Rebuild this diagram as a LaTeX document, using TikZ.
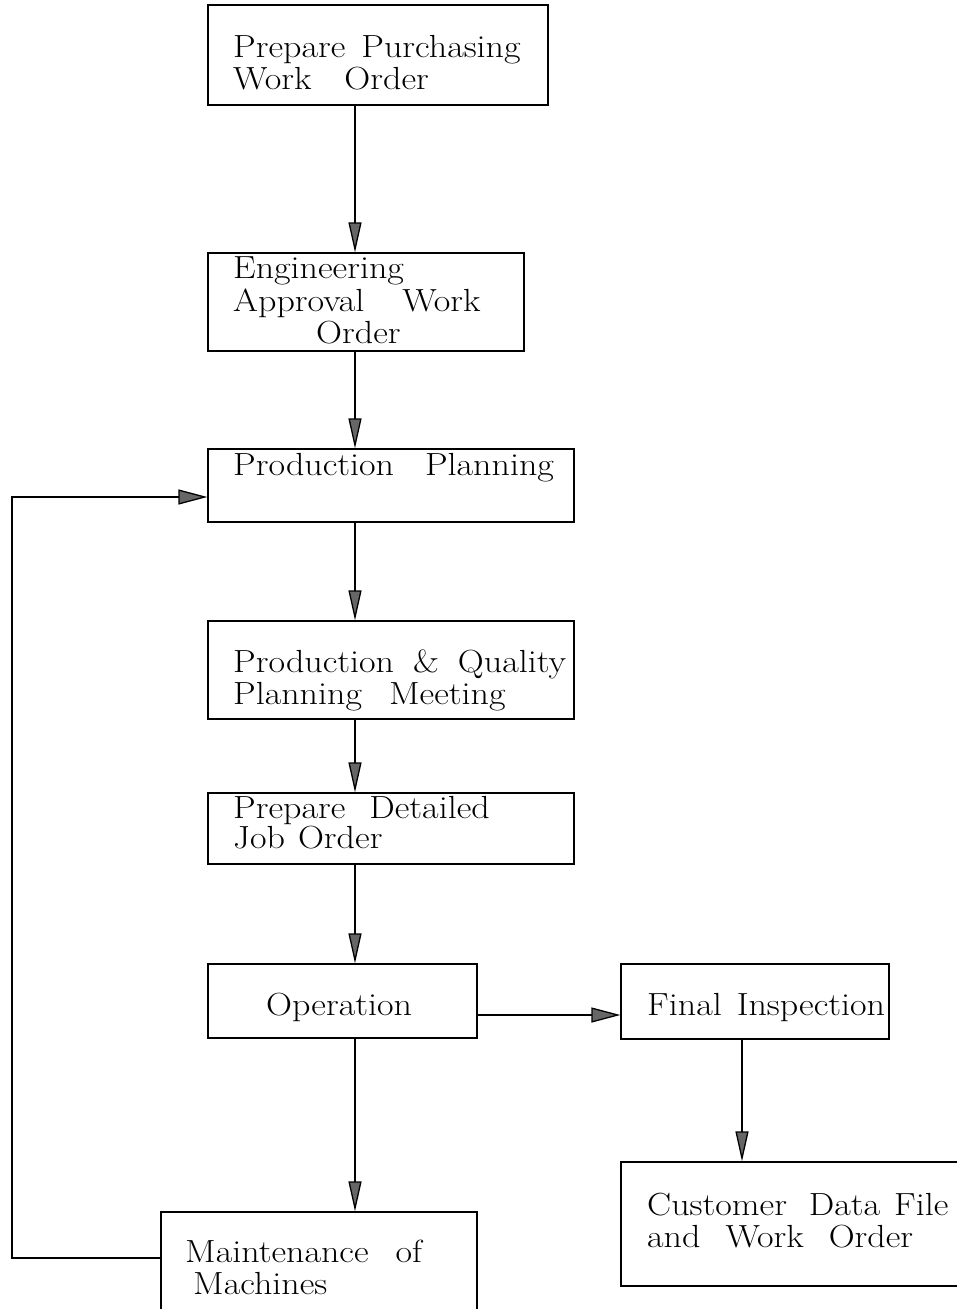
\documentclass[tikz,border=0pt]{standalone}
\usepackage{fontspec}
\setmainfont{Latin Modern Roman}[FakeStretch=1.125]
\usetikzlibrary{arrows.meta}
% a word gap of a given width in pt
\newcommand{\gp}[1]{\hspace{#1pt}}
\tikzset{
  box/.style={draw, line width=1.3pt, rectangle, inner sep=0pt},
  txt/.style={anchor=north west, inner sep=0pt, align=left,
    font=\fontsize{32}{32}\selectfont},
  arr/.style={line width=1.3pt, -{Triangle[length=30pt,width=13pt,fill=gray!80!black]}},
  harr/.style={line width=1.3pt, -{Triangle[length=29pt,width=15pt,fill=gray!80!black]}},
  line/.style={line width=1.3pt}
}
\begin{document}
\begin{tikzpicture}[x=1pt,y=-1pt]
\useasboundingbox (0,0) rectangle (957,1309);
\clip (0,0) rectangle (957,1309);

% process boxes
\node[box, minimum width=340pt, minimum height=100pt] (b1) at (378,55) {};
\node[box, minimum width=316pt, minimum height=98pt] (b2) at (366,302) {};
\node[box, minimum width=366pt, minimum height=73pt] (b3) at (391,485.5) {};
\node[box, minimum width=366pt, minimum height=98pt] (b4) at (391,670) {};
\node[box, minimum width=366pt, minimum height=71pt] (b5) at (391,828.5) {};
\node[box, minimum width=269pt, minimum height=74pt] (op) at (342.5,1001) {};
\node[box, minimum width=268pt, minimum height=75pt] (fi) at (755,1001.5) {};
\node[box, minimum width=350pt, minimum height=124pt] (cu) at (796,1224) {};
\node[box, minimum width=316pt, minimum height=120pt] (mm) at (319,1272) {};

% box texts
\node[txt] (t1) at (233,34.6) {\strut Prepare\gp{16}Purchasing\\\strut Work\gp{33}Order};
\node[txt] (t2) at (233,255.6) {\strut Engineering\\\strut Approval\gp{38}Work\\\strut\hspace*{83pt}Order};
\node[txt] (t3) at (233,452.6) {\strut Production\gp{31}Planning};
\node[txt] (t4) at (233,649.6) {\strut Production\gp{19}\&\gp{19}Quality\\\strut Planning\gp{27}Meeting};
\node[txt] (t5) at (233,795.6) {\strut Prepare\gp{24}Detailed\\[-2pt]\strut Job\gp{13}Order};
\node[txt] (t6) at (266,992.6) {\strut Operation};
\node[txt] (t7) at (647,992.6) {\strut Final\gp{15}Inspection};
\node[txt] (t8) at (647,1192.6) {\strut Customer\gp{22}Data\gp{14}File\\\strut and\gp{25}Work\gp{25}Order};
\node[txt] (t9) at (185,1239.6) {\strut Maintenance\gp{27}of\\\strut\hspace*{8pt}Machines};

% connector guides
\coordinate (spine) at (355,0);
\coordinate (fx) at (742,0);
\coordinate (hy) at (0,1015);
\coordinate (lb) at (12,1258);
\coordinate (lt) at (12,497);

% main flow
\draw[arr] (b1.south -| spine) -- (b2.north -| spine);
\draw[arr] (b2.south -| spine) -- (b3.north -| spine);
\draw[arr] (b3.south -| spine) -- (b4.north -| spine);
\draw[arr] (b4.south -| spine) -- (b5.north -| spine);
\draw[arr] (b5.south -| spine) -- (op.north -| spine);
\draw[arr] (op.south -| spine) -- (mm.north -| spine);
\draw[harr] (op.east |- hy) -- (fi.west |- hy);
\draw[arr] (fi.south -| fx) -- (cu.north -| fx);

% feedback loop from maintenance back to planning
\draw[harr] (mm.west |- lb) -- (lb) -- (lt) -- (b3.west |- lt);
\end{tikzpicture}
\end{document}
